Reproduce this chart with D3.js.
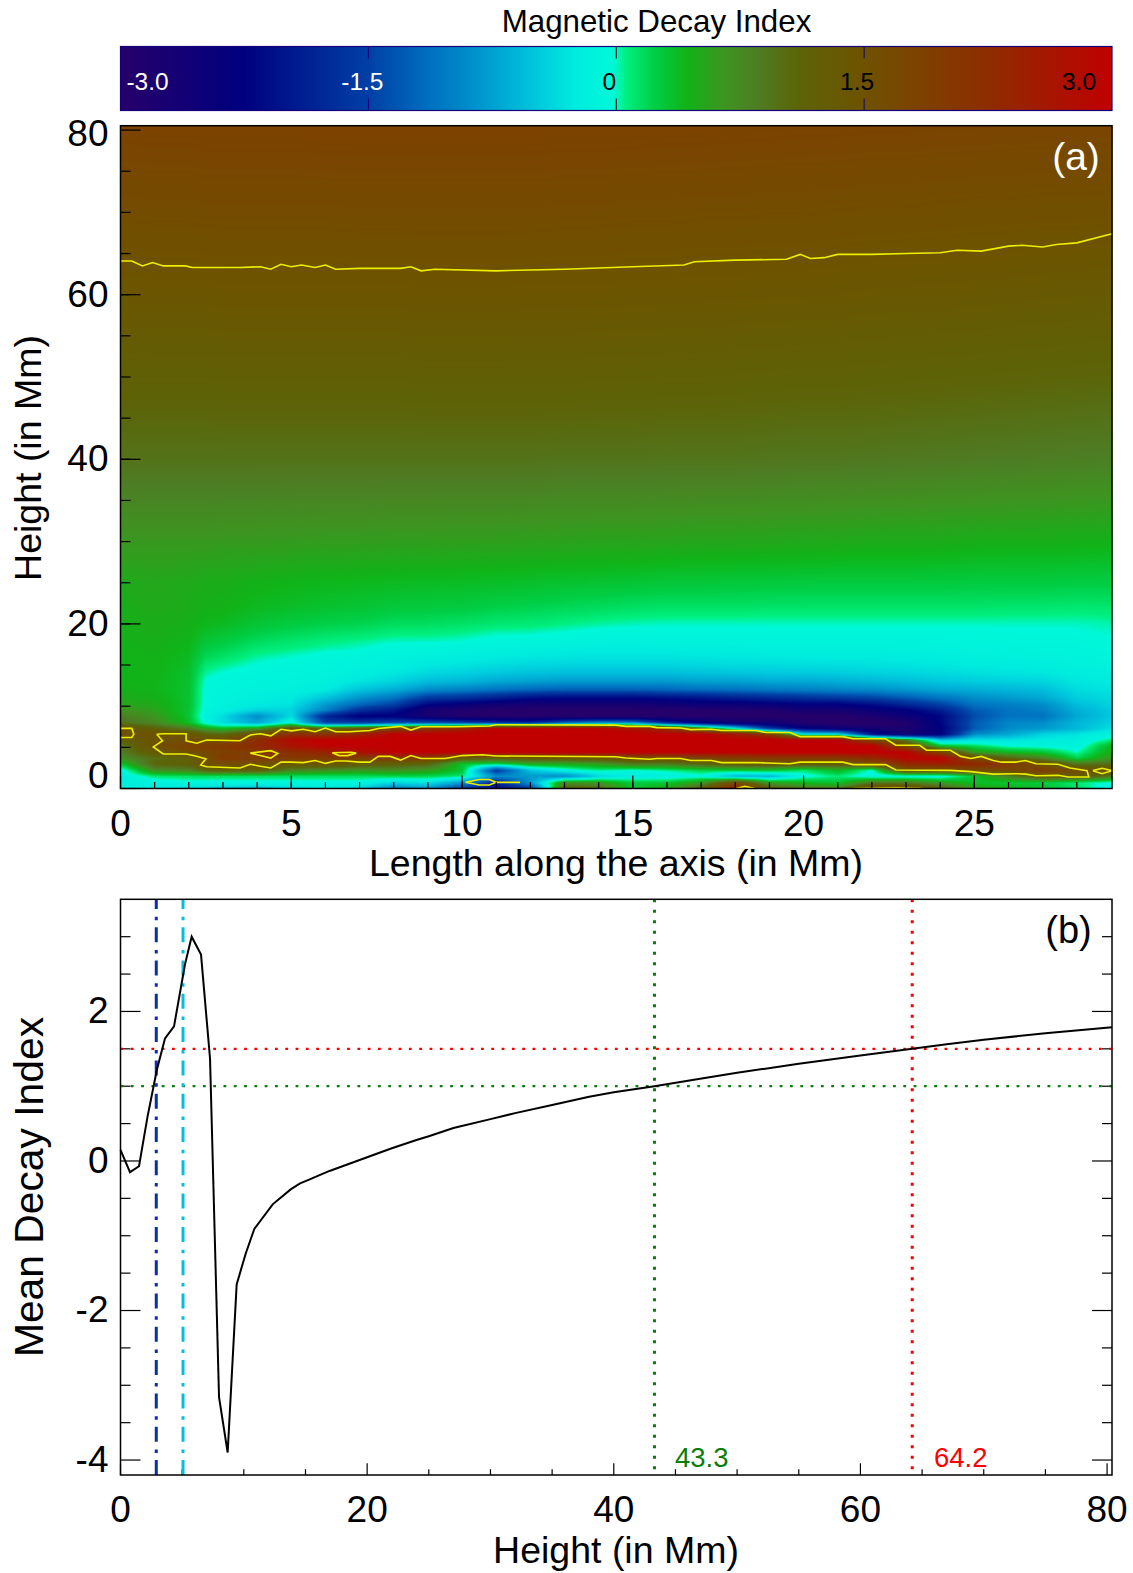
<!DOCTYPE html>
<html>
<head>
<meta charset="utf-8">
<script src="https://cdn.jsdelivr.net/npm/d3@7"></script>
<style>
  html, body { margin: 0; padding: 0; background: #fff; }
  svg { display: block; font-family: "Liberation Sans", Arial, sans-serif; }
</style>
</head>
<body>
<div id="chart"></div>
<script>
// Magnetic decay index: map along the axis (a) and mean profile with height (b)

// colour table of the index
const colorValues = [-3, -2.26, -1.5, -1.13, -0.93, -0.53, -0.25, -0.02, 0.06, 0.22, 0.42, 0.66, 0.86, 1.1, 1.5, 1.86, 2.26, 2.66, 3];
const colorList = ["#26006a", "#00007f", "#003fa5", "#0070c0", "#0088c8", "#00c0dc", "#00ecdf", "#00f8d8", "#00f080", "#00d048",
  "#10b418", "#3e9420", "#4e7c24", "#5c6408", "#6e5200", "#7e4000", "#8e2c00", "#a81400", "#c00000"];
const barTicks = [-1.5, 0, 1.5];

// map grid: columns are lengths along the axis, rows are heights (both in Mm)
const lengths = [0, 1, 2, 2.5, 3, 4, 5, 6, 7, 8, 9, 10, 11, 12, 13, 14, 15, 16, 17, 18, 19, 20, 21, 22, 23, 24, 25, 26, 27, 28, 29.1];
const heights = [0, 0.7, 1.5, 2.2, 3, 3.7, 4.4, 5.2, 5.9, 6.6, 7.3, 8, 8.8, 9.5, 10.2, 11, 12, 13, 14, 15, 16, 17, 18, 20, 22, 25, 30, 40, 50, 60, 70, 81];
const decayRows = [
  [-.15, -.25, -.35, -.4, -.5, -.6, -.35, -.3, -.4, -1, -.8, -1.6, -2.1, -1.6, 1.2, 1.1, .3, .5, 1.2, 2.6, 1.2, .9, .8, 1.9, 1.8, 1.2, .6, .45, .35, .15, -.15],
  [-.2, -.15, -.1, -.1, -.1, -.1, -.1, -.1, -.1, -.4, -.3, -.8, -1.9, -.8, .7, .6, .25, .3, .6, 1.6, .6, .4, .3, .9, .9, .6, .35, .3, .25, .1, -.1],
  [-.2, .1, .15, .15, .15, .15, .15, .15, .15, .2, .2, .1, -.9, -.8, -.9, -.4, -.2, -.2, -.1, -.6, -.6, -.1, .1, -.15, -.15, -.15, .3, .8, 1.3, 1.3, .9],
  [-.15, .7, .8, 1.1, 1.2, 1.2, .8, .7, .65, .7, .6, .3, -1.6, -.5, -.15, .05, -.05, .05, .2, .25, .3, .1, .4, -.05, 1.5, 1.45, 1.6, 1.7, 1.9, 1.6, 1.4],
  [.3, 1.1, 1.2, 1.55, 1.6, 1.6, 1.4, 1.5, 1.3, 1.2, 1.1, .3, .2, .5, .5, .6, .9, .9, 1.1, 1.3, 1.4, 1.3, 1.3, 1.6, 2.3, 2.5, 2.4, 2, 1.55, .9, 1],
  [.7, 1, 1.2, 1.55, 2, 1.9, 2, 2, 1.9, 2, 2, 1.3, 1.2, 1.3, 1.35, 1.4, 1.55, 1.6, 1.8, 1.9, 2, 2, 2, 2.3, 2.9, 3, 1.6, 1.1, .8, .2, .7],
  [.85, 1.3, 1.6, 1.7, 1.85, 2, 2.2, 2.4, 2.7, 3, 3, 3, 3, 3, 3, 3, 3, 3, 3, 3, 3, 3, 3, 3, 3, 1.8, .6, .4, .3, 0, .55],
  [.9, 1.55, 1.8, 1.9, 2, 2.3, 2.7, 3, 3, 3, 3, 3, 3, 3, 3, 3, 3, 3, 3, 3, 3, 3, 3, 3, 1.6, .3, .15, -.05, -.1, -.15, .45],
  [1.2, 1.45, 1.6, 1.5, 1.55, 2.2, 2.8, 3, 3, 3, 3, 3, 3, 3, 3, 3, 3, 3, 3, 3, 3, 3, 3, 1.7, .9, -.5, -.3, -.3, -.25, -.2, .1],
  [1.55, 1.5, 1.45, 1.15, 1.05, 1.55, 2.2, 2.1, 2.4, 3, 3, 3, 3, 3, 3, 3, 3, 3, 3, 2.6, 2, -.3, -.3, -2, -2.6, -2.3, -.9, -.7, -.4, -.3, -.1],
  [1.5, 1.15, .85, .5, .35, .6, 1.4, 1.1, 1.4, 1.7, 2.1, 2.4, 3, 3, 3, 3, 2.7, 2.2, 1, -.2, -1.6, -2.2, -2.5, -2.7, -2.8, -2.3, -1.3, -.9, -.8, -.6, -.3],
  [.95, .75, .35, -.1, -.35, -.7, -.1, -1.5, -1.6, -1.4, -1.4, -1.5, -1.7, -1.8, -1.2, -.9, -.9, -1.8, -2.3, -2.6, -2.6, -2.9, -3, -3, -2.9, -2.2, -1.3, -.95, -.9, -.6, -.4],
  [.85, .65, .3, -.15, -.35, -.9, -.35, -1.8, -2.3, -2.3, -2.7, -2.9, -3, -3, -3, -3, -3, -3, -3, -3, -3, -3, -3, -2.8, -2.5, -2.2, -1.4, -1.1, -1.1, -.7, -.45],
  [.7, .55, .3, -.1, -.2, -.4, -.4, -1, -1.7, -2, -2.7, -2.9, -3, -3, -3, -3, -3, -3, -3, -2.9, -2.9, -2.7, -2.7, -2.5, -2.3, -1.9, -1.3, -1.1, -1, -.65, -.45],
  [.55, .5, .32, -.08, -.15, -.25, -.3, -.8, -1.2, -1.5, -2.2, -2.4, -2.6, -2.7, -2.7, -2.7, -2.7, -2.6, -2.5, -2.5, -2.4, -2.3, -2.3, -2.1, -1.8, -1.5, -1.1, -1, -.9, -.55, -.4],
  [.5, .45, .32, -.07, -.12, -.2, -.25, -.5, -.85, -1.1, -1.6, -1.7, -1.9, -2.1, -2.2, -2.2, -2.2, -2.1, -2, -1.9, -1.8, -1.7, -1.6, -1.5, -1.3, -1.1, -.9, -.8, -.7, -.45, -.35],
  [.45, .42, .32, -.06, -.1, -.15, -.18, -.25, -.5, -.65, -.9, -1, -1.1, -1.2, -1.25, -1.25, -1.25, -1.2, -1.15, -1.1, -1.05, -1, -.95, -.9, -.8, -.7, -.65, -.6, -.55, -.35, -.3],
  [.42, .42, .33, -.04, -.07, -.12, -.14, -.18, -.3, -.4, -.55, -.6, -.7, -.75, -.8, -.8, -.8, -.8, -.75, -.75, -.7, -.7, -.65, -.6, -.55, -.5, -.45, -.42, -.4, -.28, -.24],
  [.42, .43, .34, .03, -.03, -.09, -.11, -.14, -.2, -.27, -.38, -.42, -.48, -.52, -.55, -.55, -.55, -.55, -.52, -.5, -.48, -.47, -.45, -.42, -.4, -.36, -.33, -.3, -.28, -.22, -.18],
  [.42, .43, .36, .1, .05, -.03, -.07, -.11, -.15, -.2, -.27, -.3, -.35, -.38, -.4, -.4, -.4, -.4, -.38, -.36, -.35, -.34, -.33, -.32, -.3, -.28, -.25, -.23, -.2, -.17, -.14],
  [.42, .44, .38, .18, .13, .03, -.01, -.06, -.1, -.15, -.18, -.2, -.24, -.27, -.29, -.3, -.3, -.3, -.28, -.27, -.26, -.25, -.24, -.24, -.22, -.2, -.18, -.17, -.15, -.13, -.1],
  [.43, .45, .4, .24, .2, .1, .06, .02, -.01, -.07, -.1, -.13, -.16, -.18, -.2, -.22, -.22, -.2, -.2, -.19, -.18, -.18, -.17, -.17, -.16, -.15, -.13, -.12, -.11, -.1, -.07],
  [.44, .46, .42, .3, .26, .17, .12, .08, .05, .01, .01, -.01, -.06, -.07, -.1, -.13, -.14, -.13, -.13, -.12, -.11, -.11, -.11, -.11, -.1, -.1, -.09, -.08, -.07, -.06, -.03],
  [.46, .48, .45, .4, .38, .3, .25, .22, .2, .16, .15, .13, .1, .09, .06, .03, .01, 0, 0, 0, 0, 0, 0, 0, 0, 0, 0, 0, 0, 0, .02],
  [.47, .5, .48, .45, .44, .38, .35, .32, .3, .27, .26, .25, .22, .2, .18, .16, .14, .13, .13, .13, .12, .12, .12, .12, .12, .12, .12, .11, .11, .1, .11],
  [.5, .52, .5, .48, .47, .44, .42, .4, .39, .38, .37, .36, .35, .34, .32, .31, .3, .28, .28, .27, .27, .26, .26, .26, .26, .26, .25, .25, .25, .24, .24],
  [.63, .63, .63, .63, .62, .62, .61, .6, .6, .59, .59, .58, .58, .57, .56, .55, .55, .54, .53, .53, .52, .51, .5, .49, .49, .48, .47, .46, .46, .45, .44],
  [.95, .95, .95, .95, .95, .95, .95, .95, .95, .95, .95, .95, .95, .95, .94, .94, .94, .93, .93, .93, .92, .91, .91, .9, .89, .88, .87, .86, .85, .84, .83],
  [1.2, 1.2, 1.2, 1.2, 1.21, 1.21, 1.21, 1.21, 1.21, 1.21, 1.22, 1.22, 1.22, 1.22, 1.22, 1.21, 1.21, 1.2, 1.2, 1.19, 1.18, 1.17, 1.17, 1.16, 1.15, 1.14, 1.13, 1.12, 1.11, 1.1, 1.09],
  [1.42, 1.43, 1.43, 1.43, 1.44, 1.44, 1.44, 1.44, 1.44, 1.44, 1.45, 1.45, 1.45, 1.44, 1.44, 1.44, 1.43, 1.43, 1.42, 1.42, 1.41, 1.41, 1.4, 1.39, 1.38, 1.38, 1.37, 1.36, 1.35, 1.34, 1.33],
  [1.61, 1.62, 1.62, 1.63, 1.63, 1.63, 1.63, 1.63, 1.64, 1.64, 1.64, 1.64, 1.64, 1.64, 1.63, 1.63, 1.62, 1.62, 1.61, 1.61, 1.6, 1.6, 1.59, 1.58, 1.58, 1.57, 1.56, 1.56, 1.55, 1.55, 1.54],
  [1.82, 1.83, 1.83, 1.84, 1.84, 1.84, 1.84, 1.85, 1.85, 1.85, 1.85, 1.85, 1.85, 1.85, 1.84, 1.84, 1.84, 1.83, 1.83, 1.82, 1.82, 1.81, 1.81, 1.8, 1.8, 1.79, 1.79, 1.78, 1.78, 1.77, 1.77]
];

// contours of index 1.5 on the map, [length, height]
const contourTop = [[0, 64.1], [.33, 64.1], [.64, 63.5], [.94, 63.9], [1.25, 63.5], [1.9, 63.5], [2.1, 63.3], [3.5, 63.3], [4.1, 63.4], [4.4, 63.1], [4.7, 63.7], [5, 63.4], [5.3, 63.6], [5.7, 63.3], [6, 63.6], [6.3, 63.1], [7, 63.2], [8.2, 63.2], [8.5, 63.4], [8.8, 62.9], [9.2, 63.1], [11, 62.9], [13, 63.1], [15, 63.4], [16.5, 63.6], [16.8, 64], [18, 64.2], [19.5, 64.3], [19.9, 64.9], [20.2, 64.4], [20.6, 64.5], [21, 64.9], [22, 64.9], [23, 65], [24, 65.1], [24.5, 65.4], [25.2, 65.3], [26, 65.9], [26.4, 66], [27, 65.8], [27.4, 66.1], [28, 66.3], [29.03, 67.4]];
const contourBand = [[1.06, 6.6], [1.22, 6.65], [1.92, 6.65], [1.92, 5.8], [2.23, 5.5], [2.52, 5.9], [3.5, 5.8], [3.8, 6.5], [4.1, 6.65], [4.4, 6.4], [4.7, 7.2], [5, 7], [5.35, 7.2], [5.7, 6.9], [6, 7.35], [6.3, 6.9], [6.7, 6.9], [7.3, 7.05], [7.55, 7.3], [8.2, 7.55], [8.5, 7.1], [8.8, 7.5], [9.8, 7.5], [10.8, 7.6], [11, 7.75], [14.5, 7.7], [14.8, 7.55], [15.5, 7.55], [15.7, 7.4], [16.4, 7.35], [16.7, 7.15], [17.3, 7.2], [17.6, 7.05], [18.6, 7.05], [18.9, 6.8], [19.6, 6.8], [19.9, 6.3], [21.15, 6.3], [21.45, 6.05], [22.4, 6.05], [22.7, 5.25], [23.4, 5.25], [23.6, 4.65], [24.3, 4.65], [24.6, 3.9], [24.9, 3.65], [25.2, 3.9], [25.55, 3.4], [25.8, 3.2], [26.2, 3.2], [26.5, 3.4], [26.8, 3], [27.45, 2.95], [27.8, 2.5], [28.3, 2.15], [28.35, 1.4], [27.75, 1.4], [27.45, 1.6], [26.8, 1.55], [26.5, 1.75], [26.2, 1.8], [25.55, 1.75], [24.9, 2.05], [24.3, 2.2], [22.7, 2.25], [22.4, 2.9], [21.45, 2.9], [21.15, 3.2], [19.9, 3.2], [19.6, 3], [18.9, 3.1], [18.6, 3.15], [17.6, 3.15], [17.3, 3.4], [16.7, 3.4], [16.4, 3.65], [15.7, 3.65], [15.5, 3.55], [14.8, 3.7], [14.5, 3.85], [11, 3.95], [10.6, 4.1], [10, 4], [9.5, 3.65], [8.8, 3.65], [8.5, 4], [8.2, 3.45], [7.9, 3.9], [7.55, 3.9], [7.3, 3.2], [7, 3.2], [6.6, 3.35], [6.3, 3.35], [6, 3.05], [5.7, 3.4], [5.35, 3.15], [5, 3.2], [4.7, 3.2], [4.4, 2.5], [4.1, 2.7], [3.8, 2.95], [3.5, 2.5], [2.52, 2.65], [2.35, 2.85], [2.5, 3.6], [2.2, 3.95], [1.92, 4.2], [1.25, 4.2], [.96, 5.05], [1.23, 5.8], [1.06, 6.6]];
const contourLeft = [[0, 7.3], [.33, 7.3], [.39, 6.6], [.33, 6.2], [0, 6.2]];
const contourLoop1 = [[3.8, 4.3], [4.4, 4.6], [4.6, 4.27], [4.4, 3.7], [3.8, 4.3]];
const contourLoop2 = [[6.2, 4.35], [6.75, 4.4], [6.9, 4.3], [6.65, 4], [6.4, 4], [6.2, 4.35]];
const contourLoop3 = [[10.1, .75], [10.5, 1.1], [10.8, 1.1], [11, .75], [11.7, .75], [11, .75], [10.8, .42], [10.5, .42], [10.1, .75]];
const contourLoop4 = [[28.47, 2.17], [28.74, 2.45], [29.03, 2.17], [28.74, 1.8], [28.47, 2.17]];
const contourBump1 = [[18.03, 0], [18.28, .25], [18.57, 0]];
const contourBump2 = [[21.43, 0], [22.7, .1], [23.5, 0]];
const contours = [contourTop, contourBand, contourLeft, contourLoop1, contourLoop2, contourLoop3, contourLoop4, contourBump1, contourBump2];

// panel b: mean decay index against height
const meanHeight = [0, .77, 1.5, 2.2, 2.95, 3.61, 4.34, 5.23, 5.77, 6.53, 7.26, 7.99, 8.69, 9.42, 10.15, 10.85, 12.34, 13.8, 14.56, 15.3, 16, 17, 18, 19, 20, 22, 24, 25, 27, 30, 32, 35, 38, 40, 43.3, 47, 50, 55, 60, 64.2, 67, 70, 75, 80.4];
const meanIndex = [.15, -.15, -.07, .6, 1.22, 1.64, 1.8, 2.63, 3, 2.76, 1.37, -3.16, -3.9, -1.65, -1.24, -.91, -.58, -.38, -.3, -.25, -.2, -.13, -.07, -.01, .05, .17, .28, .33, .44, .56, .64, .75, .86, .92, 1, 1.1, 1.18, 1.3, 1.41, 1.5, 1.56, 1.62, 1.71, 1.79];
const markHeights = [2.9, 5.07];
const markColors = ["#0a2fa8", "#0abcdc"];
const thresholdIndex = [1, 1.5];
const thresholdHeight = [43.3, 64.2];
const thresholdColors = ["#0a7d0a", "#ff0000"];

var width = 1133;
var height = 1573;

var svg = d3.select("#chart").append("svg")
  .attr("width", width)
  .attr("height", height);

var defs = svg.append("defs");

// colour scale, with a lookup table so the map does not parse a string per pixel
var color = d3.scaleLinear().domain(colorValues).range(colorList).clamp(true);
var lutSize = 2048;
var lut = d3.range(lutSize).map(function(i) {
  return d3.rgb(color(-3 + 6 * i / (lutSize - 1)));
});

function addText(x, y, str, size, fill, anchor) {
  return svg.append("text")
    .attr("x", x)
    .attr("y", y)
    .attr("font-size", size)
    .attr("fill", fill || "#000")
    .attr("text-anchor", anchor || "middle")
    .text(str);
}

// ---- colour bar ----
var barX = d3.scaleLinear().domain([-3, 3]).range([120.5, 1112]);
var barTop = 46.5, barBottom = 110.5;

var grad = defs.append("linearGradient")
  .attr("id", "barGradient")
  .attr("gradientUnits", "userSpaceOnUse")
  .attr("x1", barX(-3)).attr("x2", barX(3))
  .attr("y1", 0).attr("y2", 0);
colorValues.forEach(function(v, i) {
  grad.append("stop")
    .attr("offset", (v + 3) / 6)
    .attr("stop-color", colorList[i]);
});

svg.append("rect")
  .attr("x", barX(-3)).attr("y", barTop)
  .attr("width", barX(3) - barX(-3)).attr("height", barBottom - barTop)
  .attr("fill", "url(#barGradient)")
  .attr("stroke", "#14007a")
  .attr("stroke-width", 1.2);

barTicks.forEach(function(t) {
  [[barTop, barTop + 12], [barBottom - 12, barBottom]].forEach(function(seg) {
    svg.append("line")
      .attr("x1", barX(t)).attr("x2", barX(t))
      .attr("y1", seg[0]).attr("y2", seg[1])
      .attr("stroke", t === 0 ? "#000" : "#14007a")
      .attr("stroke-width", 1);
  });
});

addText(656.5, 32, "Magnetic Decay Index", 31.3);
addText(barX(-3) + 27, 90, "-3.0", 24.5, "#fff");
addText(barX(-1.5) - 6, 90, "-1.5", 24.5, "#fff");
addText(barX(0) - 7, 90, "0", 24.5, "#000");
addText(barX(1.5) - 7, 90, "1.5", 24.5, "#000");
addText(barX(3) - 33, 90, "3.0", 24.5, "#000");

// ---- panel a: the map ----
var ax = d3.scaleLinear().domain([0, 29.03]).range([120.5, 1112]);
var ay = d3.scaleLinear().domain([0, 80]).range([788.5, 130.1]);
var aTop = 125.7;
var bottomA = ay(0);

// paint the map on a canvas pixel by pixel, then place it in the svg
var imgW = Math.round(ax.range()[1] - ax.range()[0]);
var imgH = Math.round(bottomA - aTop);
var canvas = document.createElement("canvas");
canvas.width = imgW;
canvas.height = imgH;
var ctx = canvas.getContext("2d");
var image = ctx.createImageData(imgW, imgH);

function cellIndex(list, v) {
  var i = d3.bisectRight(list, v) - 1;
  return Math.max(0, Math.min(list.length - 2, i));
}

for (var py = 0; py < imgH; py++) {
  var h = ay.invert(aTop + py + 0.5);
  var r = cellIndex(heights, h);
  var tr = (h - heights[r]) / (heights[r + 1] - heights[r]);
  for (var px = 0; px < imgW; px++) {
    var l = ax.invert(ax.range()[0] + px + 0.5);
    var c = cellIndex(lengths, l);
    var tc = (l - lengths[c]) / (lengths[c + 1] - lengths[c]);
    var low = decayRows[r][c] * (1 - tc) + decayRows[r][c + 1] * tc;
    var high = decayRows[r + 1][c] * (1 - tc) + decayRows[r + 1][c + 1] * tc;
    var v = low * (1 - tr) + high * tr;
    var k = Math.max(0, Math.min(lutSize - 1, Math.round((v + 3) / 6 * (lutSize - 1))));
    var o = (py * imgW + px) * 4;
    image.data[o] = lut[k].r;
    image.data[o + 1] = lut[k].g;
    image.data[o + 2] = lut[k].b;
    image.data[o + 3] = 255;
  }
}
ctx.putImageData(image, 0, 0);

svg.append("image")
  .attr("x", ax.range()[0])
  .attr("y", aTop)
  .attr("width", imgW)
  .attr("height", imgH)
  .attr("href", canvas.toDataURL());

// yellow contours
var contourLine = d3.line()
  .x(function(d) { return ax(d[0]); })
  .y(function(d) { return ay(d[1]); });

svg.append("g").selectAll("path")
  .data(contours)
  .enter()
  .append("path")
  .attr("d", contourLine)
  .attr("fill", "none")
  .attr("stroke", "#ecf000")
  .attr("stroke-width", 1.6);

function styleAxis(g, size) {
  g.select(".domain").remove();
  g.selectAll("line").attr("stroke", "#000").attr("stroke-width", 1.2);
  g.selectAll("text").attr("font-size", size).attr("font-family", '"Liberation Sans", Arial, sans-serif').attr("fill", "#000");
}

function plainLabel(d) { return String(d); }

// axes of panel a: long ticks carry the labels
var aYMajor = svg.append("g").attr("transform", "translate(" + ax.range()[0] + ",0)")
  .call(d3.axisLeft(ay).offset(0).tickValues([0, 20, 40, 60, 80]).tickSize(-20).tickPadding(12).tickFormat(plainLabel));
styleAxis(aYMajor, 37);
aYMajor.selectAll(".tick text").filter(function(d) { return d === 80; }).attr("y", 4);
aYMajor.selectAll(".tick text").filter(function(d) { return d === 0; }).attr("y", -12);

var aYMinor = svg.append("g").attr("transform", "translate(" + ax.range()[0] + ",0)")
  .call(d3.axisLeft(ay).offset(0).tickValues(d3.range(5, 80, 5)).tickSize(-10).tickFormat(""));
styleAxis(aYMinor, 10);

var aXMajor = svg.append("g").attr("transform", "translate(0," + bottomA + ")")
  .call(d3.axisBottom(ax).offset(0).tickValues([0, 5, 10, 15, 20, 25]).tickSize(-13).tickPadding(21.5).tickFormat(plainLabel));
styleAxis(aXMajor, 37);

var aXMinor = svg.append("g").attr("transform", "translate(0," + bottomA + ")")
  .call(d3.axisBottom(ax).offset(0).tickValues(d3.range(1, 29, 1)).tickSize(-6.5).tickFormat(""));
styleAxis(aXMinor, 10);

svg.append("rect")
  .attr("x", ax.range()[0]).attr("y", aTop)
  .attr("width", ax.range()[1] - ax.range()[0]).attr("height", bottomA - aTop)
  .attr("fill", "none").attr("stroke", "#000").attr("stroke-width", 1.5);

addText(1076, 170, "(a)", 39, "#fff");
addText(616, 876, "Length along the axis (in Mm)", 37.5);
svg.append("text")
  .attr("transform", "translate(41,458) rotate(-90)")
  .attr("font-size", 37.5)
  .attr("text-anchor", "middle")
  .text("Height (in Mm)");

// ---- panel b: the mean profile ----
var bx = d3.scaleLinear().domain([0, 80.4]).range([120.5, 1112]);
var by = d3.scaleLinear().domain([-4.2, 3.5]).range([1475, 899.3]);

var bYMajor = svg.append("g").attr("transform", "translate(" + bx.range()[0] + ",0)")
  .call(d3.axisLeft(by).offset(0).tickValues([-4, -2, 0, 2]).tickSize(-20).tickPadding(12).tickFormat(plainLabel));
styleAxis(bYMajor, 37);

var minorIndex = d3.range(-3.5, 3.5, 0.5).filter(function(d) { return d % 2 !== 0; });
var bYMinor = svg.append("g").attr("transform", "translate(" + bx.range()[0] + ",0)")
  .call(d3.axisLeft(by).offset(0).tickValues(minorIndex).tickSize(-10).tickFormat(""));
styleAxis(bYMinor, 10);

var bRightMajor = svg.append("g").attr("transform", "translate(" + bx.range()[1] + ",0)")
  .call(d3.axisRight(by).offset(0).tickValues([-4, -2, 0, 2]).tickSize(-20).tickFormat(""));
styleAxis(bRightMajor, 10);

var bRightMinor = svg.append("g").attr("transform", "translate(" + bx.range()[1] + ",0)")
  .call(d3.axisRight(by).offset(0).tickValues(minorIndex).tickSize(-10).tickFormat(""));
styleAxis(bRightMinor, 10);

var bXMajor = svg.append("g").attr("transform", "translate(0," + by(-4.2) + ")")
  .call(d3.axisBottom(bx).offset(0).tickValues([0, 20, 40, 60, 80]).tickSize(-11.7).tickPadding(21).tickFormat(plainLabel));
styleAxis(bXMajor, 37);

var bXMinor = svg.append("g").attr("transform", "translate(0," + by(-4.2) + ")")
  .call(d3.axisBottom(bx).offset(0).tickValues(d3.range(5, 80, 5).filter(function(d) { return d % 20 !== 0; })).tickSize(-5.8).tickFormat(""));
styleAxis(bXMinor, 10);

// dotted thresholds
thresholdIndex.forEach(function(t, i) {
  svg.append("line")
    .attr("x1", bx.range()[0]).attr("x2", bx.range()[1])
    .attr("y1", by(t)).attr("y2", by(t))
    .attr("stroke", thresholdColors[i])
    .attr("stroke-width", 2.2)
    .attr("stroke-dasharray", "2.8,7.5");
});
thresholdHeight.forEach(function(t, i) {
  svg.append("line")
    .attr("x1", bx(t)).attr("x2", bx(t))
    .attr("y1", by.range()[1]).attr("y2", by.range()[0])
    .attr("stroke", thresholdColors[i])
    .attr("stroke-width", 3)
    .attr("stroke-dasharray", "3,7.5");
});

// dash-dot marks near the bottom of the box
markHeights.forEach(function(t, i) {
  svg.append("line")
    .attr("x1", bx(t)).attr("x2", bx(t))
    .attr("y1", by.range()[0]).attr("y2", by.range()[1])
    .attr("stroke", markColors[i])
    .attr("stroke-width", 3)
    .attr("stroke-dasharray", "15,7,3.5,7.8");
});

// the profile itself
var profile = d3.line()
  .x(function(d, i) { return bx(meanHeight[i]); })
  .y(function(d) { return by(d); });

svg.append("path")
  .attr("d", profile(meanIndex))
  .attr("fill", "none")
  .attr("stroke", "#000")
  .attr("stroke-width", 2);

svg.append("rect")
  .attr("x", bx.range()[0]).attr("y", by.range()[1])
  .attr("width", bx.range()[1] - bx.range()[0]).attr("height", by.range()[0] - by.range()[1])
  .attr("fill", "none").attr("stroke", "#000").attr("stroke-width", 1.5);

addText(1068.5, 943, "(b)", 38);
addText(675, 1467, "43.3", 27.5, thresholdColors[0], "start");
addText(934, 1467, "64.2", 27.5, thresholdColors[1], "start");
addText(616, 1563, "Height (in Mm)", 37.5);
svg.append("text")
  .attr("transform", "translate(43,1187) rotate(-90)")
  .attr("font-size", 40.8)
  .attr("text-anchor", "middle")
  .text("Mean Decay Index");
</script>
</body>
</html>
